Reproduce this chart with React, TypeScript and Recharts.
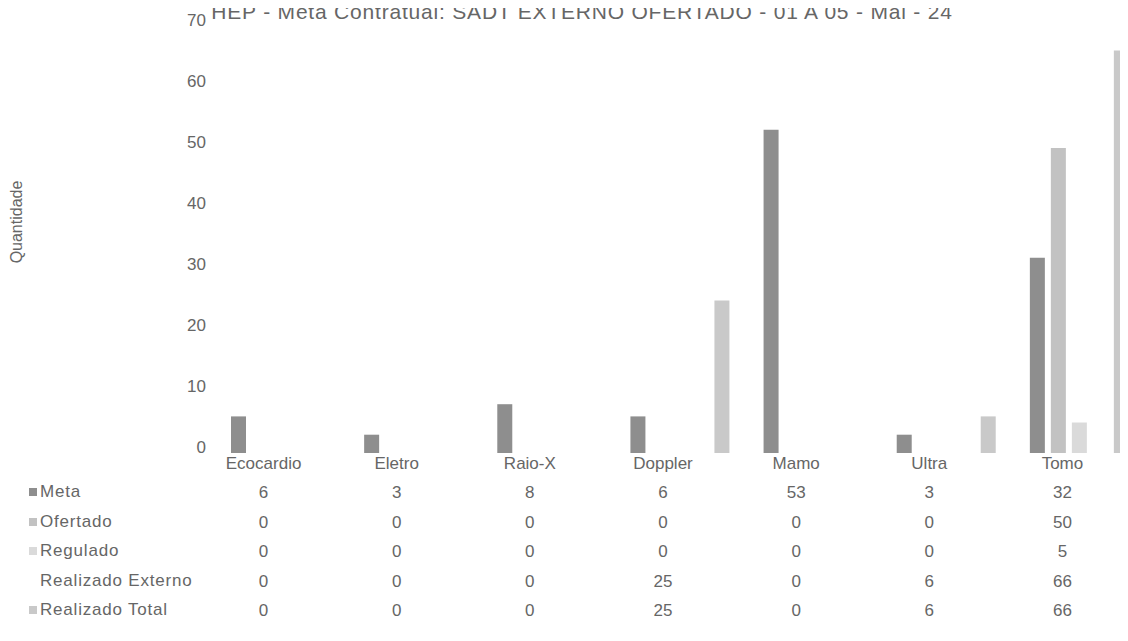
import React from "react";
import { BarChart, Bar, XAxis, YAxis } from "recharts";

const categorias = ["Ecocardio", "Eletro", "Raio-X", "Doppler", "Mamo", "Ultra", "Tomo"];
const meta = [6, 3, 8, 6, 53, 3, 32];
const ofertado = [0, 0, 0, 0, 0, 0, 50];
const regulado = [0, 0, 0, 0, 0, 0, 5];
const realizadoExterno = [0, 0, 0, 25, 0, 6, 66];
const realizadoTotal = [0, 0, 0, 25, 0, 6, 66];
const yTicks = [0, 10, 20, 30, 40, 50, 60, 70];

const titulo = "HEP - Meta Contratual: SADT EXTERNO OFERTADO - 01 A 05 - Mai - 24";

const series = [
  { key: "meta", name: "Meta", values: meta, color: "#8e8e8e" },
  { key: "ofertado", name: "Ofertado", values: ofertado, color: "#c2c2c2" },
  { key: "regulado", name: "Regulado", values: regulado, color: "#dadada" },
  { key: "realizadoExterno", name: "Realizado Externo", values: realizadoExterno, color: "#ffffff" },
  { key: "realizadoTotal", name: "Realizado Total", values: realizadoTotal, color: "#c9c9c9" },
];

const data = categorias.map((cat, i) => {
  const row: Record<string, string | number> = { cat };
  series.forEach((s) => (row[s.key] = s.values[i]));
  return row;
});

const textColor = "#666666";
const font = "'Liberation Sans', Arial, sans-serif";
const rowGap = 29.5;

// category name + the data table column under it
function TableTick(props: any) {
  const { x, y, payload, index } = props;
  return (
    <g>
      <text x={x - 17} y={y + 2} textAnchor="middle" dominantBaseline="central" fill={textColor} fontSize={17} fontFamily={font}>
        {payload.value}
      </text>
      {series.map((s, r) => (
        <text
          key={s.key}
          x={x - 17}
          y={y + 2 + rowGap * (r + 1)}
          textAnchor="middle"
          dominantBaseline="central"
          fill={textColor}
          fontSize={17}
          fontFamily={font}
        >
          {s.values[index]}
        </text>
      ))}
    </g>
  );
}

function YTick(props: any) {
  const { x, y, payload } = props;
  return (
    <text x={x} y={y - 6} textAnchor="end" dominantBaseline="central" fill={textColor} fontSize={17} fontFamily={font}>
      {payload.value}
    </text>
  );
}

export default function App() {
  return (
    <div
      style={{
        position: "relative",
        width: 1128,
        height: 641,
        overflow: "hidden",
        margin: -8,
        background: "#fff",
        fontFamily: font,
      }}
    >
      <div
        style={{
          position: "absolute",
          left: 202,
          top: 1,
          width: 760,
          lineHeight: "22px",
          textAlign: "center",
          fontSize: 21,
          letterSpacing: 0.8,
          color: textColor,
          whiteSpace: "nowrap",
        }}
      >
        {titulo}
      </div>
      <div
        style={{
          position: "absolute",
          left: 17,
          top: 222,
          transform: "translate(-50%, -50%) rotate(-90deg)",
          fontSize: 16,
          color: textColor,
        }}
      >
        Quantidade
      </div>
      {series.map((s, r) => (
        <div
          key={s.key}
          style={{
            position: "absolute",
            left: 29,
            top: 492 + rowGap * r - 11,
            height: 22,
            display: "flex",
            alignItems: "center",
            fontSize: 17,
            letterSpacing: 0.8,
            color: textColor,
            whiteSpace: "nowrap",
          }}
        >
          <span
            style={{
              display: "inline-block",
              width: 8,
              height: 8,
              background: s.color,
              marginRight: 3,
            }}
          />
          {s.name}
        </div>
      ))}
      <div style={{ position: "absolute", left: 0, top: 0 }}>
        <BarChart
          width={1146}
          height={641}
          data={data}
          margin={{ top: 26, right: 0, bottom: 158, left: 154 }}
          barSize={15}
          barGap={6}
        >
          <XAxis
            dataKey="cat"
            height={30}
            axisLine={false}
            tickLine={false}
            interval={0}
            tick={<TableTick />}
          />
          <YAxis
            width={60}
            domain={[0, 70]}
            ticks={yTicks}
            axisLine={false}
            tickLine={false}
            tick={<YTick />}
          />
          {series.map((s) => (
            <Bar key={s.key} dataKey={s.key} name={s.name} fill={s.color} isAnimationActive={false} />
          ))}
        </BarChart>
      </div>
    </div>
  );
}
